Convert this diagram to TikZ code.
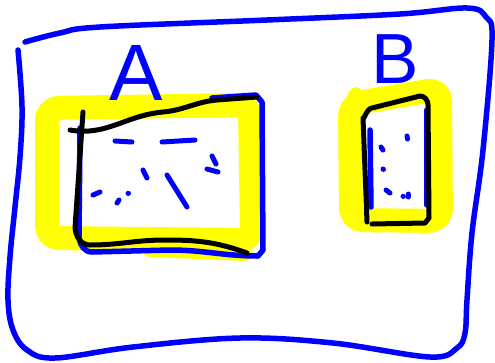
\documentclass[tikz,border=0pt]{standalone}
\usepackage{fontspec}
\setmainfont{Liberation Sans}
\definecolor{penblue}{RGB}{0,0,255}
\definecolor{hlyellow}{RGB}{255,255,0}
\tikzset{
  bluepen/.style={draw=penblue, line width=5.5pt, line cap=round, line join=round},
  blackpen/.style={draw=black, line width=5pt, line cap=round, line join=round},
  hl/.style={draw=hlyellow, line width=24pt, line cap=round, line join=round, rounded corners=12pt},
  dashmark/.style={draw=penblue, line width=5pt, line cap=round},
  letter/.style={text=penblue, inner sep=0pt, anchor=base}
}
\begin{document}
\begin{tikzpicture}[x=1pt,y=-1pt]
\useasboundingbox (0,0) rectangle (495,362);
% yellow highlights
\draw[hl] (47,238) -- (47,108) -- (250,105) -- (252,240) -- cycle;
\draw[draw=hlyellow, line width=14pt, line cap=round] (150,250) -- (245,254);
\draw[hl] (351,220) -- (350,104) -- (440,89) -- (441,221) -- cycle;
\draw[draw=hlyellow, line width=10pt, line cap=round] (352,96) -- (356,92);
% outer frame
\draw[bluepen] plot[smooth, tension=0.6] coordinates {
 (18,50) (22,107) (20,157) (15,207) (10,257) (8,300) (13,330) (27,350) (55,358)
 (133,347) (240,338) (333,343) (430,357) (457,348) (465,333) (467,300)
 (472,233) (483,150) (492,40) (486,17) (467,8) (400,14) (267,20) (100,27) (60,33) (25,42)};
% box A
\draw[bluepen] (80,128) -- (79,238) to[out=-80,in=180] (92,252) -- (170,250) to[out=0,in=180] (258,256) -- (263,250) -- (262,102) -- (256,95) -- (212,98);
\draw[blackpen] (83,112) -- (75,228) to[out=-85,in=180] (90,245) to[out=0,in=180] (165,240) to[out=0,in=160] (247,253);
\draw[blackpen] (70,130) to[out=-10,in=185] (163,112) to[out=5,in=185] (217,100) -- (257,97);
% marks in A
\draw[dashmark] (115,141) -- (132,142);
\draw[dashmark] (162,142) -- (195,140);
\draw[dashmark] (143,170) -- (147,178);
\draw[dashmark] (167,175) -- (187,207);
\draw[dashmark] (212,156) -- (216,164);
\draw[dashmark] (207,169) -- (218,172);
\draw[dashmark] (93,195) -- (100,192);
\draw[dashmark] (117,203) -- (119,200);
\draw[dashmark] (128,193) -- (128.5,193);
% box B
\draw[bluepen] (370,130) -- (371,207);
\draw[bluepen] (427,110) -- (427,205);
\draw[blackpen] (367,222) -- (363,118) to[out=-95,in=180] (372,108) -- (420,96) to[out=0,in=90] (428,105) -- (429,218) -- (425,223) -- (372,224);
% dots in B
\draw[dashmark] (407,136) -- (407.5,139);
\draw[dashmark] (381,147) -- (383,150);
\draw[dashmark] (383,169) -- (383.5,169.5);
\draw[dashmark] (386,190) -- (390,193);
\draw[dashmark] (403,196) -- (403.5,196);
\draw[dashmark] (408,194) -- (408,197);
% letters
\node[letter, font=\fontsize{80}{80}\selectfont] (A) at (136,100) {A};
\node[letter, font=\fontsize{71}{71}\selectfont] (B) at (395,83) {B};
\end{tikzpicture}
\end{document}
